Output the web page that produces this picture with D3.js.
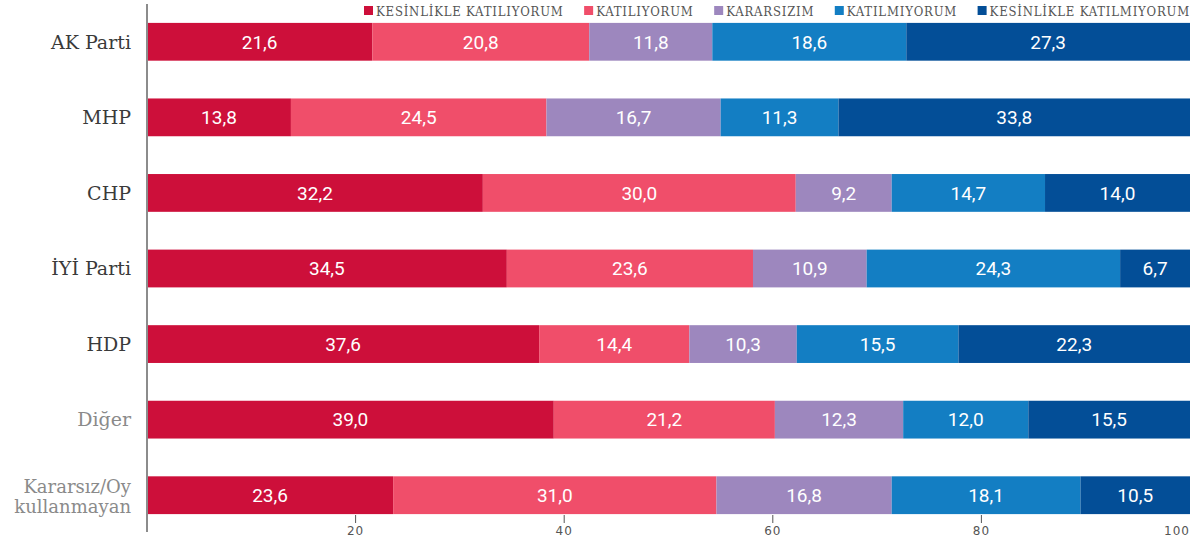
<!DOCTYPE html>
<html><head><meta charset="utf-8">
<script src="https://cdn.jsdelivr.net/npm/d3@7"></script>
<style>body{margin:0;background:#fff}svg{display:block}</style>
</head><body><svg id="c" width="1202" height="543"></svg>
<script>
const categories = ["AK Parti","MHP","CHP","İYİ Parti","HDP","Diğer","Kararsız/Oy kullanmayan"];
const series = ["KESİNLİKLE KATILIYORUM","KATILIYORUM","KARARSIZIM","KATILMIYORUM","KESİNLİKLE KATILMIYORUM"];
const kesinlikleKatiliyorum = [21.6,13.8,32.2,34.5,37.6,39.0,23.6];
const katiliyorum = [20.8,24.5,30.0,23.6,14.4,21.2,31.0];
const kararsizim = [11.8,16.7,9.2,10.9,10.3,12.3,16.8];
const katilmiyorum = [18.6,11.3,14.7,24.3,15.5,12.0,18.1];
const kesinlikleKatilmiyorum = [27.3,33.8,14.0,6.7,22.3,15.5,10.5];
const tickValues = [20,40,60,80,100];
const colors = ["#CD0F3A","#F04E6A","#9D87BE","#137EC3","#034E97"];
const grayCats = ["Diğer","Kararsız/Oy kullanmayan"];

const values = [kesinlikleKatiliyorum,katiliyorum,kararsizim,katilmiyorum,kesinlikleKatilmiyorum];
const rows = categories.map((c,i)=>{const o={cat:c};series.forEach((s,j)=>o[s]=values[j][i]);return o;});
const stacked = d3.stack().keys(series)(rows);

const svg = d3.select("#c");
const x = d3.scaleLinear().domain([0,100]).range([147,1190]);
const y = d3.scaleBand().domain(categories).range([4,533]).paddingInner(0.5).paddingOuter(0.25);
const fmt = v => v.toFixed(1).replace(".",",");

const g = svg.append("g");
stacked.forEach((layer,j)=>{
  const lg = g.append("g");
  lg.selectAll("rect").data(layer).join("rect")
    .attr("x",d=>x(d[0])).attr("y",d=>y(d.data.cat))
    .attr("width",d=>Math.max(0,Math.min(x(d[1]),1190)-x(d[0]))).attr("height",y.bandwidth())
    .attr("fill",colors[j]);
  lg.selectAll("text").data(layer).join("text")
    .attr("x",d=>(x(d[0])+Math.min(x(d[1]),1190))/2).attr("y",d=>y(d.data.cat)+y.bandwidth()/2)
    .attr("dy","0.36em").attr("text-anchor","middle")
    .attr("fill","#fff").attr("font-family","Roboto, 'Open Sans', sans-serif").attr("font-size",19)
    .text(d=>fmt(d.data[series[j]]));
});

// category labels
const lab = svg.append("g");
categories.forEach(c=>{
  const cy = y(c)+y.bandwidth()/2;
  const t = lab.append("text").attr("text-anchor","end").attr("x",131)
    .attr("font-family","'DejaVu Serif', serif").attr("font-weight",300)
    .attr("fill",grayCats.includes(c)?"#8a8a8a":"#3a3a3a");
  if(c==="Kararsız/Oy kullanmayan"){
    t.attr("font-size",18);
    t.append("tspan").attr("x",131).attr("y",cy-2).text("Kararsız/Oy");
    t.append("tspan").attr("x",131).attr("y",cy+18).text("kullanmayan");
  } else {
    t.attr("font-size",19).attr("y",cy).attr("dy","0.36em").text(c);
  }
});

// axis line
svg.append("line").attr("x1",147).attr("x2",147).attr("y1",4).attr("y2",532)
  .attr("stroke","#8c8c8c").attr("stroke-width",2);

// ticks
const ax = svg.append("g");
tickValues.forEach(v=>{
  if(v<100) ax.append("line").attr("x1",x(v)).attr("x2",x(v)).attr("y1",515).attr("y2",523).attr("stroke","#555").attr("stroke-width",1);
  ax.append("text").attr("x",x(v)).attr("y",535).attr("text-anchor",v===100?"end":"middle")
    .attr("font-family","'DejaVu Sans', sans-serif").attr("font-size",12).attr("fill","#555").attr("letter-spacing",1)
    .text(v);
});

// legend spanning from left start to right edge
const leg = svg.append("g");
let items = series.map((s,j)=>{
  const gi = leg.append("g");
  gi.append("rect").attr("width",9).attr("height",9).attr("y",6).attr("fill",colors[j]);
  const t = gi.append("text").attr("x",12).attr("y",16)
    .attr("font-family","'DejaVu Serif Condensed','DejaVu Serif',serif").attr("font-stretch","condensed")
    .attr("font-size",13).attr("letter-spacing",0.8).attr("fill","#555").text(s);
  return {gi,w:12+t.node().getComputedTextLength()};
});
const legStart = 364, legEnd = 1190;
const total = d3.sum(items,d=>d.w);
const gap = Math.max(8,(legEnd-legStart-total)/(items.length-1));
let xr = legEnd;
for(let i=items.length-1;i>=0;i--){
  xr -= items[i].w;
  items[i].gi.attr("transform",`translate(${xr},0)`);
  xr -= gap;
}
</script></body></html>
